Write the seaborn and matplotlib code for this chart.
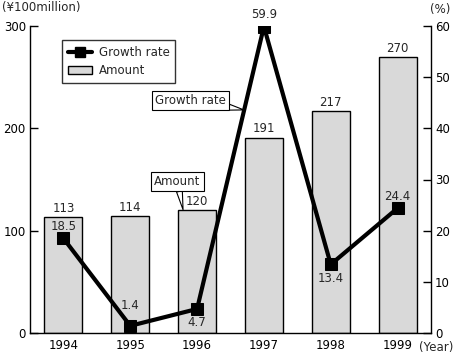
import matplotlib
matplotlib.use("Agg")
import matplotlib.pyplot as plt
import seaborn as sns
import pandas as pd
from matplotlib.lines import Line2D
from matplotlib.patches import Patch

years = ["1994", "1995", "1996", "1997", "1998", "1999"]
amount = [113, 114, 120, 191, 217, 270]
growth = [18.5, 1.4, 4.7, 59.9, 13.4, 24.4]
left_ticks = [0, 100, 200, 300]
right_ticks = [0, 10, 20, 30, 40, 50, 60]

sns.set_style("white")
plt.rcParams["font.family"] = ["DejaVu Sans"]
plt.rcParams["font.size"] = 8.5

df = pd.DataFrame({"year": years, "amount": amount, "growth": growth})

fig = plt.figure(figsize=(4.57, 3.53), dpi=100)
ax = fig.add_axes([30 / 457, 20 / 353, 401 / 457, 307 / 353])

sns.barplot(data=df, x="year", y="amount", color="#d9d9d9", edgecolor="black",
            linewidth=1.0, width=0.57, saturation=1, ax=ax)
ax.set_xlim(-0.5, 5.5)
ax.set_ylim(0, 300)
ax.set_yticks(left_ticks)
ax.set_xlabel("")
ax.set_ylabel("")
for s in ["top", "right"]:
    ax.spines[s].set_visible(False)
for s in ["left", "bottom"]:
    ax.spines[s].set_color("black")
    ax.spines[s].set_linewidth(1.0)
ax.tick_params(axis="y", direction="in", length=6, width=1, colors="black", pad=3)
ax.tick_params(axis="x", length=0, pad=4, colors="black", labelsize=8.5)

for i, v in enumerate(amount):
    ax.text(i, v + 2, str(v), ha="center", va="bottom", fontsize=8.5)

ax2 = ax.twinx()
x = list(range(len(years)))
sns.lineplot(x=x, y=growth, ax=ax2, color="black", linewidth=3, marker="s",
             markersize=8, markeredgecolor="black", markerfacecolor="black")
ax2.set_ylim(0, 60)
ax2.set_xlim(-0.5, 5.5)
ax2.set_yticks(right_ticks)
for s in ["top", "left", "bottom"]:
    ax2.spines[s].set_visible(False)
ax2.spines["right"].set_color("black")
ax2.spines["right"].set_linewidth(1.0)
ax2.tick_params(axis="y", direction="in", length=6, width=1, colors="black", pad=3)

# label offsets in points (relative to marker centre)
offsets = [8.5, 14.5, -10, 9, -10, 8.5]
for i, (v, o) in enumerate(zip(growth, offsets)):
    ax2.annotate(f"{v}", xy=(i, v), xytext=(0, o), textcoords="offset points",
                 ha="center", va="center", fontsize=8.5)

fig.text(2 / 457, 1 - 1 / 353, "(\u00a5100million)", ha="left", va="top", fontsize=8.5)
fig.text(440 / 457, 1 - 3 / 353, "(%)", ha="center", va="top", fontsize=8.5)
ax.annotate("(Year)", xy=(1, 0), xycoords="axes fraction", xytext=(-8.5, -5.5),
            textcoords="offset points", ha="left", va="top", fontsize=8.5,
            annotation_clip=False)

handles = [Line2D([0], [0], color="black", lw=3, marker="s", markersize=7),
           Patch(facecolor="#d9d9d9", edgecolor="black")]
leg = ax.legend(handles, ["Growth rate", "Amount"], loc="upper left",
                bbox_to_anchor=(32 / 401, 1 - 14 / 307), borderaxespad=0,
                frameon=True, fancybox=False, edgecolor="black", fontsize=8.5,
                handlelength=2.0, handletextpad=0.6, borderpad=0.5,
                labelspacing=0.45)
leg.get_frame().set_linewidth(1.0)

ax2.annotate("Growth rate", xy=(2.70, 43.6), xytext=(2.43, 45.5),
             ha="right", va="center", fontsize=8.5,
             bbox=dict(boxstyle="square,pad=0.25", fc="white", ec="black", lw=0.8),
             arrowprops=dict(arrowstyle="wedge,tail_width=0.5", fc="white",
                             ec="black", lw=0.8, shrinkA=0, shrinkB=0))
ax.annotate("Amount", xy=(1.79, 120.5), xytext=(1.707, 148),
            ha="center", va="center", fontsize=8.5,
            bbox=dict(boxstyle="square,pad=0.25", fc="white", ec="black", lw=0.8),
            arrowprops=dict(arrowstyle="wedge,tail_width=0.5", fc="white",
                            ec="black", lw=0.8, shrinkA=0, shrinkB=0))

fig.savefig("out.png", dpi=100)
